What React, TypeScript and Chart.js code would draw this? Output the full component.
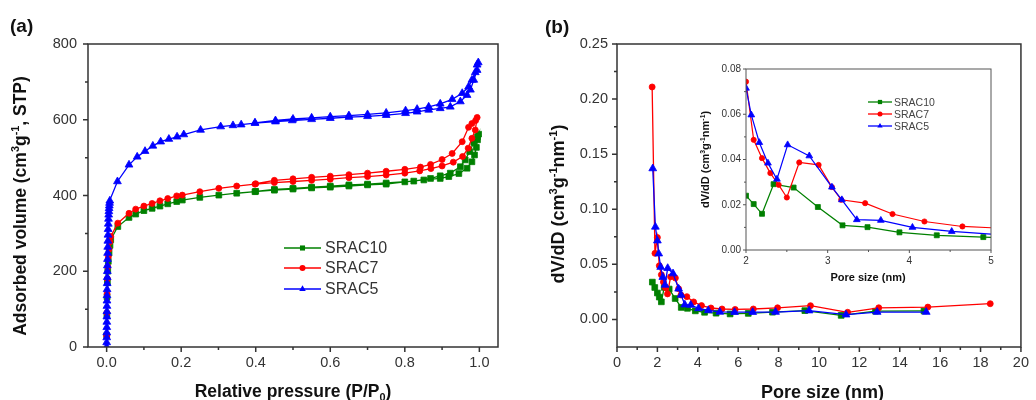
import React, { useEffect, useRef } from 'react';
import { Chart, registerables } from 'chart.js';

Chart.register(...registerables);

const FONT = '"Liberation Sans", Arial, Helvetica, sans-serif';

// ---------------- Panel (a): N2 isotherms ----------------
const A_X_TICKS = [0, 0.2, 0.4, 0.6, 0.8, 1.0];
const A_X_MINOR = [0.1, 0.3, 0.5, 0.7, 0.9];
const A_Y_TICKS = [0, 200, 400, 600, 800];
const A_Y_MINOR = [100, 300, 500, 700];

const SRAC10_ADS_P = [0.0002, 0.0006, 0.0012, 0.002, 0.003, 0.0045, 0.0065, 0.009, 0.011, 0.030, 0.060, 0.078, 0.100, 0.122, 0.143, 0.164, 0.188, 0.203, 0.250, 0.301, 0.349, 0.398, 0.450, 0.500, 0.550, 0.600, 0.650, 0.700, 0.750, 0.800, 0.851, 0.895, 0.918, 0.945, 0.967, 0.980, 0.987, 0.992, 0.995, 0.998];
const SRAC10_ADS_V = [30, 85, 132, 170, 200, 226, 248, 268, 283, 318, 342, 351, 360, 366, 372, 378, 384, 388, 395, 401, 406, 410, 414, 417, 420, 422, 425, 428, 430, 436, 441, 445, 450, 458, 472, 489, 507, 527, 547, 562];
const SRAC10_DES_P = [0.995, 0.985, 0.974, 0.962, 0.949, 0.922, 0.895, 0.869, 0.824, 0.750, 0.700, 0.650, 0.600, 0.550, 0.500, 0.450, 0.400];
const SRAC10_DES_V = [555, 540, 516, 494, 476, 459, 452, 445, 438, 433, 430, 428, 425, 422, 419, 416, 411];

const SRAC7_ADS_P = [0.0002, 0.0006, 0.0012, 0.002, 0.003, 0.0045, 0.0065, 0.009, 0.011, 0.030, 0.060, 0.078, 0.100, 0.122, 0.143, 0.164, 0.188, 0.203, 0.250, 0.301, 0.349, 0.398, 0.450, 0.500, 0.550, 0.600, 0.650, 0.700, 0.750, 0.800, 0.840, 0.870, 0.900, 0.930, 0.955, 0.970, 0.980, 0.989, 0.994];
const SRAC7_ADS_V = [30, 90, 140, 180, 212, 238, 258, 278, 292, 327, 353, 364, 372, 379, 386, 392, 399, 401, 410, 419, 425, 430, 434, 437, 440, 443, 447, 450, 454, 459, 465, 471, 478, 488, 503, 525, 551, 573, 606];
const SRAC7_DES_P = [0.990, 0.980, 0.971, 0.954, 0.927, 0.900, 0.869, 0.842, 0.800, 0.750, 0.700, 0.650, 0.600, 0.550, 0.500, 0.450, 0.400];
const SRAC7_DES_V = [598, 590, 580, 542, 511, 495, 482, 475, 469, 464, 459, 455, 451, 448, 444, 440, 431];

const SRAC5_ADS_P = [0.0000, 0.0001, 0.0002, 0.0003, 0.0004, 0.0005, 0.0006, 0.0007, 0.0008, 0.0009, 0.0010, 0.0012, 0.0014, 0.0016, 0.0018, 0.0020, 0.0023, 0.0026, 0.0029, 0.0032, 0.0036, 0.0040, 0.0045, 0.0050, 0.0055, 0.0060, 0.0066, 0.0072, 0.0078, 0.0085, 0.029, 0.060, 0.082, 0.103, 0.124, 0.145, 0.167, 0.189, 0.207, 0.252, 0.306, 0.339, 0.361, 0.398, 0.453, 0.498, 0.550, 0.600, 0.650, 0.700, 0.750, 0.802, 0.833, 0.864, 0.895, 0.922, 0.949, 0.967, 0.976, 0.985, 0.994, 0.997];
const SRAC5_ADS_V = [0, 12, 25, 38, 52, 66, 80, 94, 108, 122, 136, 152, 168, 184, 200, 215, 232, 248, 264, 280, 296, 311, 325, 338, 349, 358, 366, 373, 380, 386, 437, 481, 502, 517, 531, 542, 549, 555, 561, 573, 582, 585, 587, 591, 595, 598, 601, 604, 607, 609, 612, 617, 621, 626, 630, 634, 648, 665, 679, 705, 731, 751];
const SRAC5_DES_P = [0.994, 0.989, 0.980, 0.971, 0.954, 0.927, 0.895, 0.864, 0.833, 0.802, 0.750, 0.700, 0.650, 0.600, 0.550, 0.500, 0.453, 0.398];
const SRAC5_DES_V = [745, 725, 705, 687, 670, 654, 642, 634, 628, 624, 618, 614, 611, 608, 605, 602, 598, 592];

// ---------------- Panel (b): pore size distribution ----------------
const B_X_TICKS = [0, 2, 4, 6, 8, 10, 12, 14, 16, 18, 20];
const B_X_MINOR = [1, 3, 5, 7, 9, 11, 13, 15, 17, 19];
const B_Y_TICKS = [0, 0.05, 0.10, 0.15, 0.20, 0.25];
const B_Y_MINOR = [0.025, 0.075, 0.125, 0.175, 0.225];

const SRAC10_D = [1.75, 1.87, 2.00, 2.094, 2.196, 2.338, 2.583, 2.88, 3.182, 3.488, 3.879, 4.336, 4.906, 5.6, 6.5, 7.7, 9.3, 11.1, 12.8, 15.2];
const SRAC10_DV = [0.0339, 0.0290, 0.0240, 0.0203, 0.0160, 0.0291, 0.0276, 0.0190, 0.0109, 0.0101, 0.0078, 0.0065, 0.0057, 0.0050, 0.0055, 0.0066, 0.0080, 0.0037, 0.0075, 0.0077];
const SRAC7_D = [1.74, 1.88, 2.00, 2.094, 2.196, 2.298, 2.40, 2.50, 2.652, 2.889, 3.052, 3.166, 3.459, 3.794, 4.185, 4.65, 5.2, 5.85, 6.75, 7.95, 9.58, 11.42, 12.96, 15.39, 18.48];
const SRAC7_DV = [0.211, 0.060, 0.0744, 0.0487, 0.0406, 0.0340, 0.0288, 0.0232, 0.0387, 0.0376, 0.0278, 0.0222, 0.0207, 0.0159, 0.0126, 0.0104, 0.0095, 0.0091, 0.0095, 0.0106, 0.0125, 0.0065, 0.0106, 0.0112, 0.0143];
const SRAC5_D = [1.77, 1.90, 2.00, 2.065, 2.163, 2.269, 2.379, 2.51, 2.775, 3.052, 3.174, 3.357, 3.651, 4.038, 4.519, 5.09, 5.82, 6.72, 7.85, 9.51, 11.34, 12.88, 15.31];
const SRAC5_DV = [0.137, 0.084, 0.0715, 0.0597, 0.0475, 0.0384, 0.0313, 0.0465, 0.0416, 0.0278, 0.0222, 0.0134, 0.0131, 0.0100, 0.0082, 0.0068, 0.0066, 0.0066, 0.0067, 0.0080, 0.0043, 0.0067, 0.0067];

// ---------------- Inset ----------------
const C_X_TICKS = [2, 3, 4, 5];
const C_X_MINOR = [2.5, 3.5, 4.5];
const C_Y_TICKS = [0, 0.02, 0.04, 0.06, 0.08];
const C_Y_MINOR = [0.01, 0.03, 0.05, 0.07];

// ---------------- Text ----------------
type Part = [string, number]; // 0 normal, 1 superscript, -1 subscript
const A_X_TITLE: Part[] = [['Relative pressure (P/P', 0], ['0', -1], [')', 0]];
const A_Y_TITLE: Part[] = [['Adsorbed volume (cm', 0], ['3', 1], ['g', 0], ['-1', 1], [', STP)', 0]];
const B_X_TITLE: Part[] = [['Pore size (nm)', 0]];
const B_Y_TITLE: Part[] = [['dV/dD (cm', 0], ['3', 1], ['g', 0], ['-1', 1], ['nm', 0], ['-1', 1], [')', 0]];
const LABEL_A = '(a)';
const LABEL_B = '(b)';

const SERIES = [
  { label: 'SRAC10', color: '#008000', style: 'rect' },
  { label: 'SRAC7', color: '#ff0000', style: 'circle' },
  { label: 'SRAC5', color: '#0000ff', style: 'triangle' },
];

const zip = (xs: number[], ys: number[]) => xs.map((x, i) => ({ x, y: ys[i] }));

function drawRich(ctx: CanvasRenderingContext2D, parts: Part[], x: number, y: number, rot: number, size: number, color: string) {
  ctx.save();
  ctx.translate(x, y);
  ctx.rotate(rot);
  ctx.fillStyle = color;
  ctx.textBaseline = 'alphabetic';
  ctx.textAlign = 'left';
  const fontFor = (m: number) => `bold ${m === 0 ? size : size * 0.62}px ${FONT}`;
  let w = 0;
  for (const [t, m] of parts) { ctx.font = fontFor(m); w += ctx.measureText(t).width; }
  let cx = -w / 2;
  const base = size * 0.36;
  for (const [t, m] of parts) {
    ctx.font = fontFor(m);
    const dy = m === 1 ? -size * 0.4 : m === -1 ? size * 0.22 : 0;
    ctx.fillText(t, cx, base + dy);
    cx += ctx.measureText(t).width;
  }
  ctx.restore();
}

function drawMarker(ctx: CanvasRenderingContext2D, style: string, x: number, y: number, r: number, color: string) {
  ctx.save();
  ctx.fillStyle = color;
  ctx.beginPath();
  if (style === 'rect') {
    const s = r * 0.85;
    ctx.rect(x - s, y - s, 2 * s, 2 * s);
  } else if (style === 'circle') {
    ctx.arc(x, y, r, 0, Math.PI * 2);
  } else {
    const t = r * 1.25;
    for (let k = 0; k < 3; k++) {
      const a = (k * 2 * Math.PI) / 3;
      const px = x + Math.sin(a) * t;
      const py = y - Math.cos(a) * t;
      if (k === 0) ctx.moveTo(px, py); else ctx.lineTo(px, py);
    }
    ctx.closePath();
  }
  ctx.fill();
  ctx.restore();
}

type FrameOpts = { xMajor: number[]; xMinor: number[]; yMajor: number[]; yMinor: number[]; major: number; minor: number; lw: number; color: string };

function framePlugin(o: FrameOpts) {
  return {
    id: 'frameTicks',
    afterDatasetsDraw(chart: any) {
      const { ctx, chartArea: a, scales } = chart;
      const xs = scales.x, ys = scales.y;
      ctx.save();
      ctx.strokeStyle = o.color;
      ctx.lineWidth = o.lw;
      ctx.strokeRect(a.left, a.top, a.right - a.left, a.bottom - a.top);
      ctx.beginPath();
      const xt = (vals: number[], len: number) => vals.forEach((v) => { const p = xs.getPixelForValue(v); ctx.moveTo(p, a.bottom); ctx.lineTo(p, a.bottom + len); });
      const yt = (vals: number[], len: number) => vals.forEach((v) => { const p = ys.getPixelForValue(v); ctx.moveTo(a.left, p); ctx.lineTo(a.left - len, p); });
      xt(o.xMajor, o.major); xt(o.xMinor, o.minor);
      yt(o.yMajor, o.major); yt(o.yMinor, o.minor);
      ctx.stroke();
      ctx.restore();
    },
  };
}

type Deco = {
  xTitle: Part[]; yTitle: Part[]; xTitlePos: [number, number]; yTitlePos: [number, number]; titleSize: number;
  legend?: { x0: number; x1: number; xm: number; xt: number; rows: number[]; size: number; r: number; color: string };
  label?: { text: string; x: number; y: number };
};

function decoPlugin(d: Deco) {
  return {
    id: 'deco',
    afterDraw(chart: any) {
      const ctx: CanvasRenderingContext2D = chart.ctx;
      drawRich(ctx, d.xTitle, d.xTitlePos[0], d.xTitlePos[1], 0, d.titleSize, '#111');
      drawRich(ctx, d.yTitle, d.yTitlePos[0], d.yTitlePos[1], -Math.PI / 2, d.titleSize, '#111');
      if (d.legend) {
        const L = d.legend;
        SERIES.forEach((s, i) => {
          const y = L.rows[i];
          ctx.save();
          ctx.strokeStyle = s.color;
          ctx.lineWidth = 1.3;
          ctx.beginPath();
          ctx.moveTo(L.x0, y); ctx.lineTo(L.x1, y);
          ctx.stroke();
          ctx.restore();
          drawMarker(ctx, s.style, L.xm, y, L.r, s.color);
          ctx.save();
          ctx.fillStyle = L.color;
          ctx.font = `${L.size}px ${FONT}`;
          ctx.textBaseline = 'middle';
          ctx.textAlign = 'left';
          ctx.fillText(s.label, L.xt, y + 1);
          ctx.restore();
        });
      }
      if (d.label) {
        ctx.save();
        ctx.fillStyle = '#111';
        ctx.font = `bold 19px ${FONT}`;
        ctx.textBaseline = 'middle';
        ctx.textAlign = 'left';
        ctx.fillText(d.label.text, d.label.x, d.label.y);
        ctx.restore();
      }
    },
  };
}

function axis(min: number, max: number, ticks: number[], fmt: (v: number) => string, size: number, padding: number, fit: (s: any) => void) {
  return {
    type: 'linear' as const,
    min, max,
    grid: { display: false, drawTicks: false },
    border: { display: false },
    ticks: { padding, color: '#333', font: { family: FONT, size }, maxRotation: 0, minRotation: 0, autoSkip: false, callback: (v: any) => fmt(Number(v)) },
    afterBuildTicks: (s: any) => { s.ticks = ticks.map((v) => ({ value: v })); },
    afterFit: fit,
  };
}

function dataset(i: number, data: { x: number; y: number }[], r: number, bw: number, order: number) {
  const s = SERIES[i];
  const rad = s.style === 'circle' ? r : s.style === 'rect' ? r * 1.35 : r * 1.5;
  return {
    label: s.label, data, showLine: true, borderColor: s.color, backgroundColor: s.color,
    pointStyle: s.style as any, pointRadius: rad, pointBorderWidth: 0.8,
    pointBorderColor: s.color, pointBackgroundColor: s.color, borderWidth: bw, tension: 0, order,
  };
}

const baseOpts = (padding: any) => ({
  responsive: false, maintainAspectRatio: false, animation: false as const, devicePixelRatio: 1,
  layout: { padding },
  plugins: { legend: { display: false }, tooltip: { enabled: false }, title: { display: false } },
  events: [] as any[],
});

function cfgA(): any {
  return {
    type: 'scatter',
    data: {
      datasets: [
        dataset(0, zip(SRAC10_ADS_P.concat(SRAC10_DES_P), SRAC10_ADS_V.concat(SRAC10_DES_V)), 3, 1.3, 2),
        dataset(1, zip(SRAC7_ADS_P.concat(SRAC7_DES_P), SRAC7_ADS_V.concat(SRAC7_DES_V)), 3, 1.3, 1),
        dataset(2, zip(SRAC5_ADS_P.concat(SRAC5_DES_P), SRAC5_ADS_V.concat(SRAC5_DES_V)), 3, 1.3, 0),
      ],
    },
    options: {
      ...baseOpts({ top: 44, right: 22, left: 0, bottom: 0 }),
      scales: {
        x: axis(-0.05, 1.05, A_X_TICKS, (v) => v.toFixed(1), 14.5, 7, (s) => { s.height = 53; }),
        y: axis(0, 800, A_Y_TICKS, (v) => String(Math.round(v)), 14.5, 11, (s) => { s.width = 88; }),
      },
    },
    plugins: [
      framePlugin({ xMajor: A_X_TICKS, xMinor: A_X_MINOR, yMajor: A_Y_TICKS, yMinor: A_Y_MINOR, major: 5, minor: 3, lw: 1.5, color: '#333' }),
      decoPlugin({
        xTitle: A_X_TITLE, yTitle: A_Y_TITLE, xTitlePos: [293, 391], yTitlePos: [20, 206], titleSize: 17.5,
        legend: { x0: 284, x1: 321, xm: 302.5, xt: 325, rows: [248, 268, 289], size: 16, r: 3, color: '#333' },
        label: { text: LABEL_A, x: 10, y: 27 },
      }),
    ],
  };
}

function cfgB(): any {
  return {
    type: 'scatter',
    data: {
      datasets: [
        dataset(0, zip(SRAC10_D, SRAC10_DV), 3, 1.3, 2),
        dataset(1, zip(SRAC7_D, SRAC7_DV), 3, 1.3, 1),
        dataset(2, zip(SRAC5_D, SRAC5_DV), 3, 1.3, 0),
      ],
    },
    options: {
      ...baseOpts({ top: 44, right: 8, left: 0, bottom: 0 }),
      scales: {
        x: axis(0, 20, B_X_TICKS, (v) => String(Math.round(v)), 14.5, 7, (s) => { s.height = 53; }),
        y: axis(-0.025, 0.25, B_Y_TICKS, (v) => v.toFixed(2), 14.5, 9, (s) => { s.width = 97; }),
      },
    },
    plugins: [
      framePlugin({ xMajor: B_X_TICKS, xMinor: B_X_MINOR, yMajor: B_Y_TICKS, yMinor: B_Y_MINOR, major: 5, minor: 3, lw: 1.5, color: '#333' }),
      decoPlugin({
        xTitle: B_X_TITLE, yTitle: B_Y_TITLE, xTitlePos: [302.5, 392], yTitlePos: [38, 204], titleSize: 18,
        label: { text: LABEL_B, x: 25, y: 28 },
      }),
    ],
  };
}

function cfgC(): any {
  return {
    type: 'scatter',
    data: {
      datasets: [
        dataset(0, zip(SRAC10_D, SRAC10_DV), 2.6, 1.2, 2),
        dataset(1, zip(SRAC7_D, SRAC7_DV), 2.6, 1.2, 1),
        dataset(2, zip(SRAC5_D, SRAC5_DV), 2.6, 1.2, 0),
      ],
    },
    options: {
      ...baseOpts({ top: 14, right: 19, left: 0, bottom: 0 }),
      scales: {
        x: axis(2, 5, C_X_TICKS, (v) => String(Math.round(v)), 10, 5, (s) => { s.height = 40; }),
        y: axis(0, 0.08, C_Y_TICKS, (v) => v.toFixed(2), 10, 5, (s) => { s.width = 56; }),
      },
    },
    plugins: [
      framePlugin({ xMajor: C_X_TICKS, xMinor: C_X_MINOR, yMajor: C_Y_TICKS, yMinor: C_Y_MINOR, major: 3, minor: 2, lw: 1, color: '#555' }),
      decoPlugin({
        xTitle: B_X_TITLE, yTitle: B_Y_TITLE, xTitlePos: [178, 222], yTitlePos: [15, 104.5], titleSize: 11,
        legend: { x0: 178, x1: 202, xm: 190, xt: 204, rows: [47, 59, 71], size: 10.5, r: 2.5, color: '#444' },
      }),
    ],
  };
}

export default function App() {
  const aRef = useRef<HTMLCanvasElement>(null);
  const bRef = useRef<HTMLCanvasElement>(null);
  const cRef = useRef<HTMLCanvasElement>(null);

  useEffect(() => {
    const charts = [
      new Chart(aRef.current as HTMLCanvasElement, cfgA()),
      new Chart(bRef.current as HTMLCanvasElement, cfgB()),
      new Chart(cRef.current as HTMLCanvasElement, cfgC()),
    ];
    return () => charts.forEach((c) => c.destroy());
  }, []);

  return (
    <div style={{ position: 'absolute', left: 0, top: 0, width: 1036, height: 400, background: '#fff', overflow: 'hidden' }}>
      <canvas ref={aRef} width={520} height={400} style={{ position: 'absolute', left: 0, top: 0, width: 520, height: 400 }} />
      <canvas ref={bRef} width={516} height={400} style={{ position: 'absolute', left: 520, top: 0, width: 516, height: 400 }} />
      <canvas ref={cRef} width={320} height={235} style={{ position: 'absolute', left: 690, top: 55, width: 320, height: 235 }} />
    </div>
  );
}
